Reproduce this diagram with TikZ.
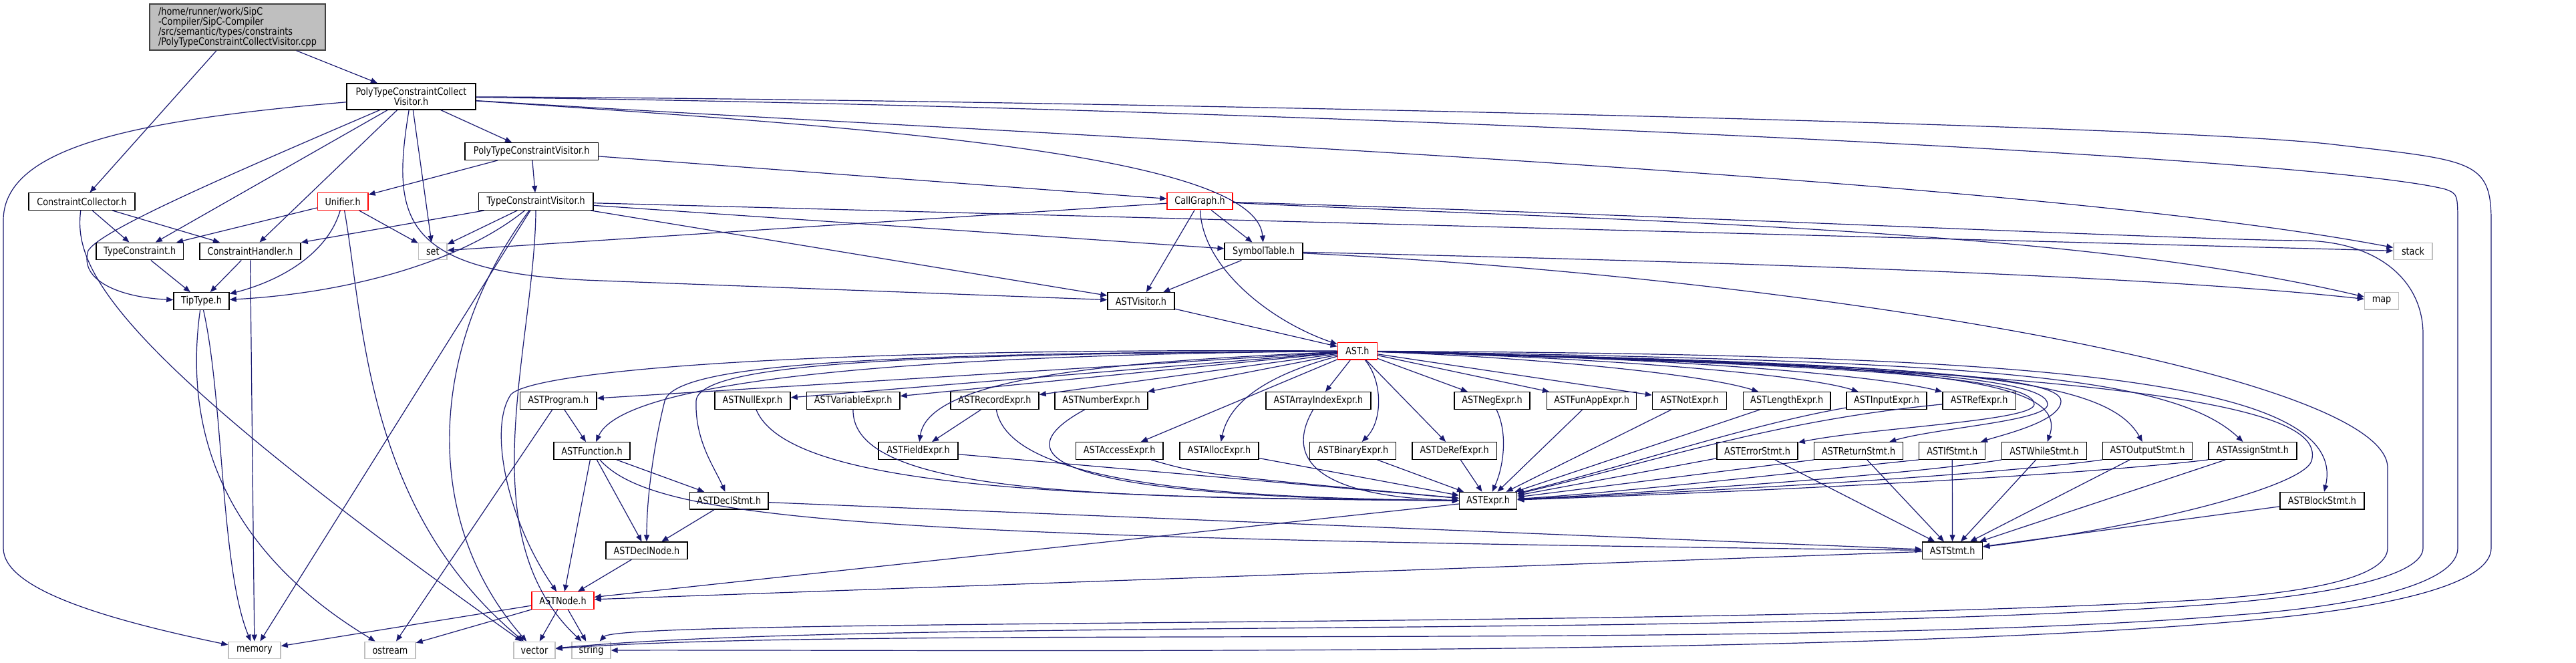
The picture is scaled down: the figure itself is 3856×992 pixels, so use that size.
\documentclass[tikz,border=0pt]{standalone}
\usepackage{fontspec}
\setmainfont{DejaVu Sans}[FakeStretch=0.85]
\usepackage{tikz}
\usetikzlibrary{arrows.meta}
\definecolor{edgeblue}{RGB}{25,25,112}
\definecolor{sysgray}{RGB}{191,191,191}
\definecolor{rootgray}{RGB}{64,64,64}
\newcommand{\hfont}{\fontsize{11.3}{11.3}\selectfont}

\begin{document}
\begin{tikzpicture}[x=0.75pt,y=0.75pt,yscale=-1,xscale=1,
  hdr/.style={draw=black,fill=white,line width=1.1pt,inner sep=0pt,minimum height=25.5*0.75pt,font=\hfont},
  redhdr/.style={hdr,draw=red},
  syshdr/.style={hdr,draw=sysgray},
  wd/.style={minimum width=#1*0.75pt},
  dep/.style={draw=edgeblue,line width=0.9pt,-{Triangle[length=7.5pt,width=6pt]}}]
%uncomment if require: \path (0,992); %set diagram left start at 0, and has height of 992
\useasboundingbox (0,0) rectangle (3856,992);

%Shape: Rectangle [root file]
\node[hdr,fill=sysgray,draw=rootgray,align=left,wd=263,minimum height=69*0.75pt] (cpp) at (355.5,40.5) {/home/runner/work/SipC\\-Compiler/SipC-Compiler\\/src/semantic/types/constraints\\/PolyTypeConstraintCollectVisitor.cpp};
\node[hdr,align=center,wd=193,minimum height=39*0.75pt] (collect) at (615.5,144.5) {PolyTypeConstraintCollect\\Visitor.h};

% Text Node -- constraint headers
\node[hdr,wd=199.5] (ptcv) at (795.7,226.5) {PolyTypeConstraintVisitor.h};
\node[hdr,wd=159] (ccoll) at (122.5,301.5) {ConstraintCollector.h};
\node[redhdr,wd=75.5] (unifier) at (513.2,301.5) {Unifier.h};
\node[hdr,wd=171.5] (tcv) at (802.2,301.5) {TypeConstraintVisitor.h};
\node[redhdr,wd=98] (callg) at (1796,301) {CallGraph.h};
\node[hdr,wd=130.5] (tcons) at (209.2,376) {TypeConstraint.h};
\node[hdr,wd=151] (chandler) at (374.5,376) {ConstraintHandler.h};
\node[syshdr,wd=42.5] (set) at (647.8,376) {set};
\node[hdr,wd=117] (symtab) at (1891.7,376) {SymbolTable.h};
\node[syshdr,wd=58] (stack) at (3612,376) {stack};
\node[hdr,wd=83] (tiptype) at (301.5,450.5) {TipType.h};
\node[hdr,wd=100] (visitor) at (1708,450.5) {ASTVisitor.h};
\node[syshdr,wd=51] (map) at (3565,450.3) {map};
\node[redhdr,wd=59] (ast) at (2031.8,525.3) {AST.h};

% Text Node -- AST row 1
\node[hdr,wd=114.5] (program) at (835.8,599.5) {ASTProgram.h};
\node[hdr,wd=113] (nullx) at (1126.5,599.5) {ASTNullExpr.h};
\node[hdr,wd=139.5] (varx) at (1277.2,599.5) {ASTVariableExpr.h};
\node[hdr,wd=132] (recx) at (1489,599.5) {ASTRecordExpr.h};
\node[hdr,wd=139] (numx) at (1648.5,599.5) {ASTNumberExpr.h};
\node[hdr,wd=157] (arrx) at (1973.4,599.5) {ASTArrayIndexExpr.h};
\node[hdr,wd=113] (negx) at (2233.5,599.5) {ASTNegExpr.h};
\node[hdr,wd=134] (funx) at (2382.6,599.5) {ASTFunAppExpr.h};
\node[hdr,wd=111] (notx) at (2528.9,599.5) {ASTNotExpr.h};
\node[hdr,wd=130.5] (lenx) at (2674.7,599.5) {ASTLengthExpr.h};
\node[hdr,wd=120] (inx) at (2824,599.5) {ASTInputExpr.h};
\node[hdr,wd=109.7] (refx) at (2962.6,599.5) {ASTRefExpr.h};

% Text Node -- AST row 2
\node[hdr,wd=114] (func) at (886,674.5) {ASTFunction.h};
\node[hdr,wd=119] (fieldx) at (1374.5,674.5) {ASTFieldExpr.h};
\node[hdr,wd=130.5] (accx) at (1675.7,674.5) {ASTAccessExpr.h};
\node[hdr,wd=118] (allocx) at (1825,674.5) {ASTAllocExpr.h};
\node[hdr,wd=129] (binx) at (2025.1,674.5) {ASTBinaryExpr.h};
\node[hdr,wd=126.5] (derefx) at (2177.2,674.5) {ASTDeRefExpr.h};
\node[hdr,wd=121] (errs) at (2630.5,674.5) {ASTErrorStmt.h};
\node[hdr,wd=133] (rets) at (2782.1,674.5) {ASTReturnStmt.h};
\node[hdr,wd=99] (ifs) at (2922.2,674.5) {ASTIfStmt.h};
\node[hdr,wd=126.6] (whiles) at (3060,674.5) {ASTWhileStmt.h};
\node[hdr,wd=134] (outs) at (3214.5,674.5) {ASTOutputStmt.h};
\node[hdr,wd=132] (assigns) at (3371.8,674.5) {ASTAssignStmt.h};

% Text Node -- AST rows 3 to 5
\node[hdr,wd=117.5] (declstmt) at (1091.2,749.3) {ASTDeclStmt.h};
\node[hdr,wd=86] (exprh) at (2227.5,749.3) {ASTExpr.h};
\node[hdr,wd=126] (blocks) at (3475.9,749.3) {ASTBlockStmt.h};
\node[hdr,wd=122] (declnode) at (968,823.8) {ASTDeclNode.h};
\node[hdr,wd=90] (stmth) at (2922.6,823.8) {ASTStmt.h};
\node[redhdr,wd=93] (node) at (842.5,898.5) {ASTNode.h};

% Text Node -- system headers
\node[syshdr,wd=78] (memory) at (381,973) {memory};
\node[syshdr,wd=76] (ostream) at (584,973) {ostream};
\node[syshdr,wd=62] (vector) at (800,973) {vector};
\node[syshdr,wd=58] (string) at (885,973) {string};

%Straight Lines -- root and collect visitor
\draw[dep] (cpp) -- (collect);
\draw[dep] (cpp) -- (ccoll);
\draw[dep] (collect) -- (ptcv);
\draw[dep] (collect) -- (tcons);
\draw[dep] (collect) -- (chandler);
\draw[dep] (collect) -- (set);
%Curve Lines
\draw[dep] (collect) .. controls (330,267) and (150,345) .. (132,375) .. controls (118,420) and (180,445) .. (tiptype);
\draw[dep] (collect) .. controls (585,330) and (600,410) .. (900,420) -- (visitor);
\draw[dep] (collect) .. controls (200,180) and (5,220) .. (5,330) -- (5,820) .. controls (5,880) and (150,925) .. (memory);
\draw[dep] (collect) .. controls (1300,190) and (1880,230) .. (symtab);
\draw[dep] (collect) .. controls (1500,200) and (3000,260) .. (stack);
\draw[dep] (collect) .. controls (1500,148) and (3250,185) .. (3500,217) .. controls (3700,240) and (3729,240) .. (3729,330) -- (3729,820) .. controls (3729,870) and (3600,905) .. (3400,925) .. controls (2800,985) and (1500,972) .. (string);
\draw[dep] (collect) .. controls (1800,158) and (3450,230) .. (3660,283) .. controls (3679,290) .. (3679,340) -- (3679,820) .. controls (3679,870) and (3550,905) .. (3350,920) .. controls (2700,975) and (1300,935) .. (vector);

%Straight Lines -- constraint headers
\draw[dep] (ccoll) -- (tcons);
\draw[dep] (ccoll) -- (chandler);
\draw[dep] (ccoll) .. controls (110,400) and (160,520) .. (vector);
\draw[dep] (unifier) -- (tcons);
\draw[dep] (unifier) -- (set);
\draw[dep] (unifier) .. controls (490,380) and (420,420) .. (tiptype);
\draw[dep] (unifier) .. controls (545,480) and (545,760) .. (vector);
\draw[dep] (ptcv) -- (tcv);
\draw[dep] (ptcv) -- (unifier);
\draw[dep] (ptcv) -- (callg);
\draw[dep] (tcv) -- (chandler);
\draw[dep] (tcv) -- (set);
\draw[dep] (tcv) .. controls (680,400) and (500,440) .. (tiptype);
\draw[dep] (tcv) -- (memory);
\draw[dep] (tcv) .. controls (640,520) and (630,780) .. (vector);
\draw[dep] (tcv) .. controls (800,520) and (700,800) .. (string);
\draw[dep] (tcv) -- (visitor);
\draw[dep] (tcv) -- (symtab);
\draw[dep] (tcv) -- (stack);
\draw[dep] (tcons) -- (tiptype);
\draw[dep] (chandler) -- (tiptype);
\draw[dep] (chandler) -- (memory);
\draw[dep] (tiptype) .. controls (335,600) and (330,850) .. (memory);
\draw[dep] (tiptype) .. controls (275,640) and (330,820) .. (ostream);

%Straight Lines -- call graph and symbol table
\draw[dep] (callg) -- (set);
\draw[dep] (callg) -- (visitor);
\draw[dep] (callg) -- (symtab);
\draw[dep] (callg) .. controls (1800,400) and (1900,480) .. (ast);
\draw[dep] (callg) .. controls (2400,330) and (3100,340) .. (map);
\draw[dep] (callg) .. controls (2500,322) and (3300,360) .. (3450,360) .. controls (3560,362) and (3627,420) .. (3627,500) -- (3627,820) .. controls (3627,860) and (3500,890) .. (3300,905) .. controls (2600,955) and (1300,925) .. (vector);
\draw[dep] (symtab) -- (visitor);
\draw[dep] (symtab) .. controls (2500,390) and (3200,410) .. (map);
\draw[dep] (symtab) .. controls (2700,415) and (3574,560) .. (3574,700) -- (3574,820) .. controls (3574,865) and (3450,890) .. (3250,900) .. controls (2500,940) and (930,925) .. (string);
\draw[dep] (visitor) -- (ast);

%Straight Lines -- AST.h to its parts
\draw[dep] (ast) -- (program);
\draw[dep] (ast) -- (nullx);
\draw[dep] (ast) -- (varx);
\draw[dep] (ast) -- (recx);
\draw[dep] (ast) -- (numx);
\draw[dep] (ast) -- (arrx);
\draw[dep] (ast) -- (negx);
\draw[dep] (ast) -- (funx);
\draw[dep] (ast) -- (notx);
\draw[dep] (ast) .. controls (2300,535) and (2550,560) .. (lenx);
\draw[dep] (ast) .. controls (2400,535) and (2700,560) .. (inx);
\draw[dep] (ast) .. controls (2500,535) and (2800,560) .. (refx);
\draw[dep] (ast) .. controls (1500,530) and (940,555) .. (func);
\draw[dep] (ast) .. controls (1700,540) and (1390,560) .. (fieldx);
\draw[dep] (ast) -- (accx);
\draw[dep] (ast) .. controls (1900,560) and (1840,600) .. (allocx);
\draw[dep] (ast) .. controls (2070,570) and (2070,630) .. (binx);
\draw[dep] (ast) -- (derefx);
\draw[dep] (ast) .. controls (2700,545) and (3045,560) .. (3045,605) .. controls (3045,630) and (2800,640) .. (errs);
\draw[dep] (ast) .. controls (2750,545) and (3065,560) .. (3065,605) .. controls (3065,630) and (2900,640) .. (rets);
\draw[dep] (ast) .. controls (2800,545) and (3085,560) .. (3085,600) .. controls (3085,630) and (3000,650) .. (ifs);
\draw[dep] (ast) .. controls (2850,545) and (3100,560) .. (whiles);
\draw[dep] (ast) .. controls (2900,545) and (3150,560) .. (outs);
\draw[dep] (ast) .. controls (2950,540) and (3250,560) .. (assigns);
\draw[dep] (ast) .. controls (3000,530) and (3520,560) .. (blocks);
\draw[dep] (ast) .. controls (3300,555) and (3480,620) .. (3460,690) .. controls (3445,730) and (3200,790) .. (stmth);
\draw[dep] (ast) .. controls (1400,530) and (1045,540) .. (1042,600) .. controls (1040,660) and (1070,700) .. (declstmt);
\draw[dep] (ast) .. controls (1300,528) and (1010,545) .. (995,600) .. controls (980,660) and (968,740) .. (declnode);
\draw[dep] (ast) .. controls (1200,520) and (800,555) .. (765,590) .. controls (730,640) and (760,780) .. (node);

%Curve Lines -- expressions to ASTExpr.h
\draw[dep] (nullx) .. controls (1180,730) and (1600,745) .. (exprh);
\draw[dep] (varx) .. controls (1275,740) and (1650,745) .. (exprh);
\draw[dep] (recx) .. controls (1510,720) and (1800,745) .. (exprh);
\draw[dep] (numx) .. controls (1500,680) and (1560,745) .. (exprh);
\draw[dep] (recx) -- (fieldx);
\draw[dep] (fieldx) -- (exprh);
\draw[dep] (accx) .. controls (1800,710) .. (exprh);
\draw[dep] (allocx) -- (exprh);
\draw[dep] (arrx) .. controls (1915,700) and (2000,745) .. (exprh);
\draw[dep] (binx) -- (exprh);
\draw[dep] (derefx) -- (exprh);
\draw[dep] (negx) .. controls (2258,650) and (2250,700) .. (exprh);
\draw[dep] (funx) -- (exprh);
\draw[dep] (notx) -- (exprh);
\draw[dep] (lenx) -- (exprh);
\draw[dep] (inx) .. controls (2620,635) and (2460,690) .. (exprh);
\draw[dep] (refx) .. controls (2650,630) and (2480,690) .. (exprh);

%Straight Lines -- statements
\draw[dep] (errs) -- (exprh);
\draw[dep] (errs) -- (stmth);
\draw[dep] (rets.south west) -- (exprh);
\draw[dep] (rets) -- (stmth);
\draw[dep] (ifs.south west) .. controls (2750,700) and (2450,735) .. (exprh);
\draw[dep] (ifs) -- (stmth);
\draw[dep] (whiles.south west) .. controls (2850,712) and (2450,738) .. (exprh);
\draw[dep] (whiles) -- (stmth);
\draw[dep] (outs.south west) .. controls (2950,715) and (2450,740) .. (exprh);
\draw[dep] (outs) -- (stmth);
\draw[dep] (assigns.south west) .. controls (3050,718) and (2450,742) .. (exprh);
\draw[dep] (assigns) -- (stmth);
\draw[dep] (blocks) -- (stmth);

%Straight Lines -- program, function and node
\draw[dep] (program) -- (func);
\draw[dep] (program) -- (ostream);
\draw[dep] (func) -- (declstmt);
\draw[dep] (func) -- (declnode);
\draw[dep] (func) -- (node);
\draw[dep] (func) .. controls (980,780) and (1300,805) .. (stmth);
\draw[dep] (declstmt) -- (declnode);
\draw[dep] (declstmt) -- (stmth);
\draw[dep] (declnode) -- (node);
\draw[dep] (exprh) -- (node);
\draw[dep] (stmth) -- (node);
\draw[dep] (node) -- (memory);
\draw[dep] (node) -- (ostream);
\draw[dep] (node) -- (vector);
\draw[dep] (node) -- (string);

\end{tikzpicture}
\end{document}
